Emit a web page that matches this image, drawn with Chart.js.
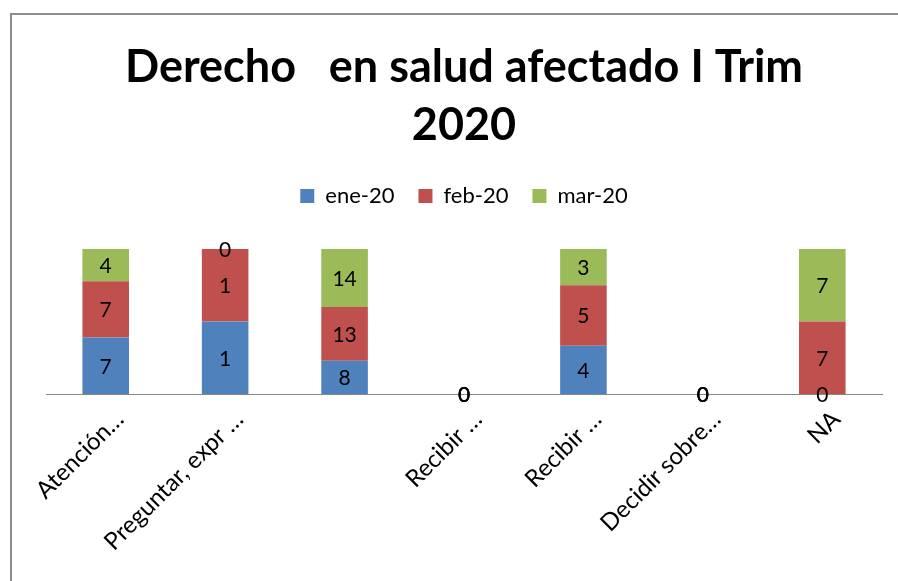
<!DOCTYPE html>
<html>
<head>
<meta charset="utf-8">
<script src="https://cdn.jsdelivr.net/npm/chart.js@4.4.1/dist/chart.umd.min.js"></script>
<style>
  html, body { margin: 0; padding: 0; background: #ffffff; }
  #wrap { width: 898px; height: 581px; position: relative; }
</style>
</head>
<body>
<div id="wrap"><canvas id="derechoChart"></canvas></div>
<script>
const categories = ['Atención…', 'Preguntar, expr …', '', 'Recibir …', 'Recibir …', 'Decidir sobre…', 'NA'];
const seriesNames = ['ene-20', 'feb-20', 'mar-20'];
const ene20 = [7, 1, 8, 0, 4, 0, 0];
const feb20 = [7, 1, 13, 0, 5, 0, 7];
const mar20 = [4, 0, 14, 0, 3, 0, 7];
const seriesColors = ['#4F81BD', '#C0504D', '#9BBB59'];

const rawSeries = [ene20, feb20, mar20];
const totals = categories.map((c, i) => ene20[i] + feb20[i] + mar20[i]);
const toPercent = arr => arr.map((v, i) => totals[i] ? v / totals[i] * 100 : 0);

// frame around the chart like the Excel chart border
const framePlugin = {
    id: 'frame',
    beforeDraw(chart) {
        const ctx = chart.ctx;
        ctx.save();
        ctx.fillStyle = '#ffffff';
        ctx.fillRect(0, 0, chart.width, chart.height);
        ctx.strokeStyle = '#8c8c8c';
        ctx.lineWidth = 2;
        ctx.strokeRect(11, 14, 1000, 1000);
        ctx.restore();
    }
};

// value labels in the middle of every segment
const valueLabels = {
    id: 'valueLabels',
    afterDatasetsDraw(chart) {
        const ctx = chart.ctx;
        ctx.save();
        ctx.font = '21px Lato';
        ctx.fillStyle = '#000000';
        ctx.textAlign = 'center';
        ctx.textBaseline = 'middle';
        chart.data.datasets.forEach((ds, di) => {
            chart.getDatasetMeta(di).data.forEach((bar, i) => {
                const y = (bar.y + bar.base) / 2;
                ctx.fillText(String(rawSeries[di][i]), bar.x, y + 1);
            });
        });
        ctx.restore();
    }
};

const ctx = document.getElementById('derechoChart').getContext('2d');
new Chart(ctx, {
    type: 'bar',
    data: {
        labels: categories,
        datasets: seriesNames.map((name, i) => ({
            label: name,
            data: toPercent(rawSeries[i]),
            backgroundColor: seriesColors[i],
            borderWidth: 0,
            categoryPercentage: 1,
            barPercentage: 0.39
        }))
    },
    options: {
        responsive: true,
        maintainAspectRatio: false,
        animation: false,
        layout: {
            padding: { left: 46, right: 16, top: 0, bottom: 0 }
        },
        plugins: {
            title: {
                display: true,
                text: ['Derecho   en salud afectado I Trim', '2020'],
                color: '#000000',
                font: { family: 'Lato', size: 45, weight: 'bold', lineHeight: 1.3 },
                padding: { top: 38, bottom: 6 }
            },
            subtitle: {
                display: true,
                text: '',
                weight: 500,
                font: { size: 10, lineHeight: 1 },
                padding: { top: 11, bottom: 11 }
            },
            legend: {
                display: true,
                labels: {
                    color: '#000000',
                    font: { family: 'Lato', size: 22 },
                    boxWidth: 14,
                    boxHeight: 14,
                    padding: 24
                }
            },
            tooltip: { enabled: false }
        },
        scales: {
            x: {
                stacked: true,
                grid: { display: false, drawTicks: false },
                border: { display: true, color: '#868686', width: 1 },
                ticks: {
                    color: '#000000',
                    font: { family: 'Lato', size: 24 },
                    maxRotation: 45,
                    minRotation: 45,
                    autoSkip: false,
                    padding: 11,
                    labelOffset: 14
                },
                afterFit(scale) {
                    scale.height = 187;
                    scale.paddingLeft = 0;
                    scale.paddingRight = 0;
                }
            },
            y: {
                stacked: true,
                display: false,
                min: 0,
                max: 100
            }
        }
    },
    plugins: [framePlugin, valueLabels]
});
</script>
</body>
</html>
